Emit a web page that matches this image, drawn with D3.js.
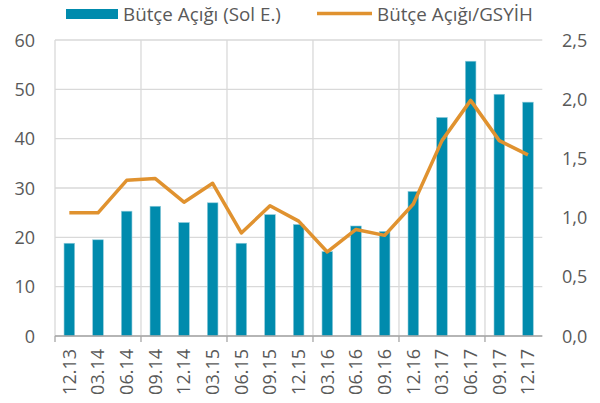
<!DOCTYPE html>
<html>
<head>
<meta charset="utf-8">
<script src="https://cdnjs.cloudflare.com/ajax/libs/d3/7.8.5/d3.min.js"></script>
<style>
    body { margin: 0; background: #fff; }
    svg text { font-family: "Open Sans", sans-serif; fill: #595959; }
</style>
</head>
<body>
<svg width="600" height="403"></svg>
<script>
var periods = ['12.13', '03.14', '06.14', '09.14', '12.14', '03.15', '06.15', '09.15', '12.15',
    '03.16', '06.16', '09.16', '12.16', '03.17', '06.17', '09.17', '12.17'];
var deficit = [18.8, 19.5, 25.3, 26.3, 23.0, 27.0, 18.8, 24.6, 22.6, 17.1, 22.3, 21.2, 29.3, 44.3, 55.7, 49.0, 47.4];
var deficitGdp = [1.04, 1.04, 1.315, 1.33, 1.13, 1.29, 0.87, 1.10, 0.97, 0.71, 0.90, 0.85, 1.115, 1.65, 1.99, 1.65, 1.53];
var leftTicks = [0, 10, 20, 30, 40, 50, 60];
var rightTicks = [0, 0.5, 1, 1.5, 2, 2.5];

var svg = d3.select('svg');
var plotLeft = 55, plotRight = 542.3, plotTop = 40, plotBottom = 336;

var x = d3.scaleBand()
    .domain(periods)
    .range([plotLeft, plotRight]);

var yL = d3.scaleLinear().domain([0, 60]).range([plotBottom, plotTop]);
var yR = d3.scaleLinear().domain([0, 2.5]).range([plotBottom, plotTop]);

// horizontal grid
svg.append('g')
    .selectAll('line')
    .data(leftTicks)
    .enter()
    .append('line')
        .attr('x1', plotLeft)
        .attr('x2', plotRight)
        .attr('y1', function (d) { return yL(d); })
        .attr('y2', function (d) { return yL(d); })
        .attr('stroke', '#d9d9d9')
        .attr('stroke-width', 1.3)
;

// vertical grid every 3 periods
var groupStarts = periods.filter(function (d, i) { return i % 3 === 0; });
svg.append('g')
    .selectAll('line')
    .data(groupStarts)
    .enter()
    .append('line')
        .attr('x1', function (d) { return x(d); })
        .attr('x2', function (d) { return x(d); })
        .attr('y1', plotTop)
        .attr('y2', plotBottom)
        .attr('stroke', '#d9d9d9')
        .attr('stroke-width', 1.3)
;

// bars
svg.append('g')
    .selectAll('rect')
    .data(deficit)
    .enter()
    .append('rect')
        .attr('x', function (d, i) { return x(periods[i]) + x.bandwidth() / 2 - 5.3; })
        .attr('width', 10.6)
        .attr('y', function (d) { return yL(d); })
        .attr('height', function (d) { return plotBottom - yL(d); })
        .attr('fill', '#008bad')
        .attr('stroke', '#8fcbdb')
        .attr('stroke-width', 0.6)
;

// bottom axis line + ticks
svg.append('line')
    .attr('x1', plotLeft)
    .attr('x2', plotRight)
    .attr('y1', plotBottom)
    .attr('y2', plotBottom)
    .attr('stroke', '#a6a6a6')
    .attr('stroke-width', 1.3)
;
svg.append('g')
    .selectAll('line')
    .data(groupStarts)
    .enter()
    .append('line')
        .attr('x1', function (d) { return x(d); })
        .attr('x2', function (d) { return x(d); })
        .attr('y1', plotBottom)
        .attr('y2', plotBottom + 6)
        .attr('stroke', '#a6a6a6')
        .attr('stroke-width', 1.3)
;

// line series
var line = d3.line()
    .x(function (d, i) { return x(periods[i]) + x.bandwidth() / 2; })
    .y(function (d) { return yR(d); })
;
svg.append('path')
    .datum(deficitGdp)
    .attr('d', line)
    .attr('fill', 'none')
    .attr('stroke', '#e0922f')
    .attr('stroke-width', 3.5)
    .attr('stroke-linejoin', 'round')
;

// axis labels
svg.append('g')
    .selectAll('text')
    .data(leftTicks)
    .enter()
    .append('text')
        .attr('x', 35)
        .attr('y', function (d) { return yL(d) + 6.5; })
        .attr('text-anchor', 'end')
        .style('font-size', '18px')
        .text(function (d) { return d; })
;

svg.append('g')
    .selectAll('text')
    .data(rightTicks)
    .enter()
    .append('text')
        .attr('x', 562)
        .attr('y', function (d) { return yR(d) + 6.5; })
        .style('font-size', '18px')
        .text(function (d) { return d.toFixed(1).replace('.', ','); })
;

svg.append('g')
    .selectAll('text')
    .data(periods)
    .enter()
    .append('text')
        .attr('transform', function (d) {
            return 'translate(' + (x(d) + x.bandwidth() / 2 + 6.5) + ',' + 349 + ') rotate(-90)';
        })
        .attr('text-anchor', 'end')
        .style('font-size', '18px')
        .text(function (d) { return d; })
;

// legend
var legend = svg.append('g');
legend.append('rect')
    .attr('x', 66)
    .attr('y', 9)
    .attr('width', 52)
    .attr('height', 10)
    .attr('fill', '#008bad')
;
legend.append('text')
    .attr('x', 123)
    .attr('y', 20.5)
    .style('font-size', '18.8px')
    .text('Bütçe Açığı (Sol E.)')
;
legend.append('line')
    .attr('x1', 317)
    .attr('x2', 372)
    .attr('y1', 13.5)
    .attr('y2', 13.5)
    .attr('stroke', '#e0922f')
    .attr('stroke-width', 3.5)
;
legend.append('text')
    .attr('x', 377)
    .attr('y', 20.5)
    .style('font-size', '18.8px')
    .text('Bütçe Açığı/GSYİH')
;
</script>
</body>
</html>
